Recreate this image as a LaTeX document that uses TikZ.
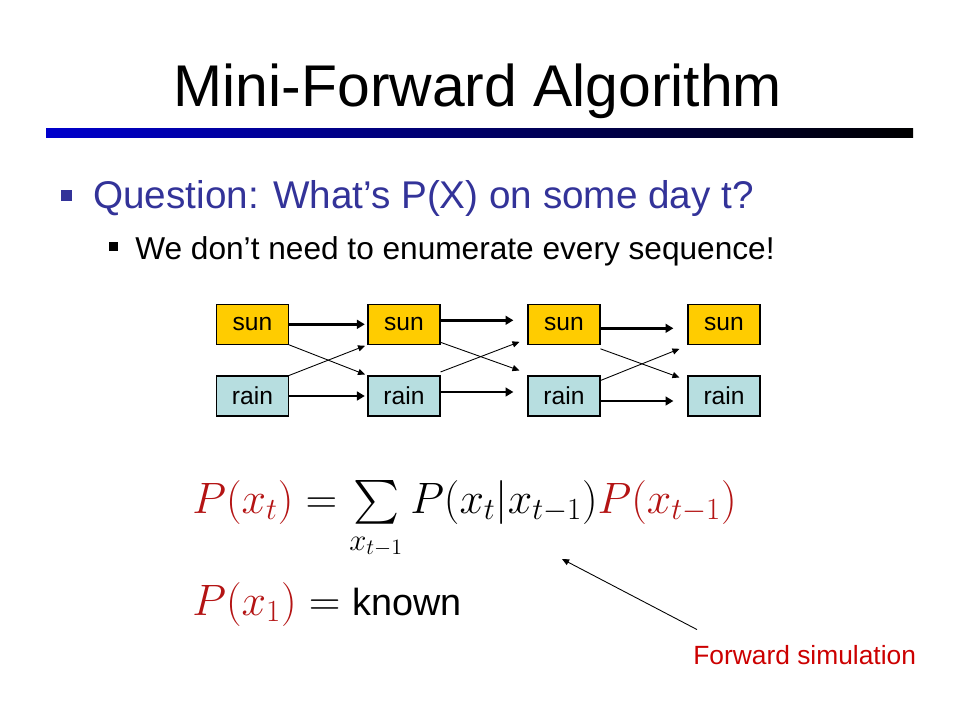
\RequirePackage{fix-cm}
\documentclass[tikz,border=0pt]{standalone}
\usepackage{amsmath}
\usepackage[no-math]{fontspec}
\setmainfont{Liberation Sans}
\usetikzlibrary{arrows.meta,calc}
\definecolor{qblue}{RGB}{51,51,153}
\definecolor{barblue}{RGB}{0,0,204}
\definecolor{sunfill}{RGB}{255,204,0}
\definecolor{rainfill}{RGB}{183,222,224}
\definecolor{mred}{RGB}{180,20,20}
\definecolor{fred}{RGB}{204,0,0}
\begin{document}
\begin{tikzpicture}[x=0.02cm, y=-0.02cm,
    statebox/.style={draw=black, line width=0.6pt, minimum width=1.44cm,
        minimum height=0.8cm, inner sep=0pt, font=\fontsize{14}{16}\selectfont},
    sunbox/.style={statebox, fill=sunfill},
    rainbox/.style={statebox, fill=rainfill},
    stay/.style={-{Triangle[length=4.5pt,width=5pt]}, line width=1.7pt},
    switch/.style={-{Triangle[length=4pt,width=3.5pt]}, line width=0.5pt},
    formula/.style={anchor=base west, inner sep=0pt, font=\fontsize{25}{30}\selectfont}]

    \useasboundingbox[fill=white] (0,0) rectangle (960,720);

    % 标题
    \node[anchor=base, font=\fontsize{33.5}{38}\selectfont] (title) at (478,106) {Mini-Forward Algorithm};
    \shade[left color=barblue, middle color=barblue!65!black, right color=black]
        (46,128) rectangle (913,137);

    % 要点
    \fill[qblue] (60.5,190) rectangle (71.5,201);
    \node[anchor=base west, inner sep=0pt, text=qblue, font=\fontsize{22}{26}\selectfont]
        (q) at (93,208) {Question: What’s P(X) on some day t?};
    \fill (108.5,242) rectangle (117.5,251);
    \node[anchor=base west, inner sep=0pt, font=\fontsize{18}{22}\selectfont]
        (we) at (135,259) {We don’t need to enumerate every sequence!};

    % 1. 状态格子
    \foreach \n/\x in {1/252.5, 2/404, 3/564, 4/724} {
        \node[sunbox] (s\n) at (\x,324.3) {sun};
        \node[rainbox] (r\n) at (\x,396) {rain};
    }

    % 2. 粗箭头 (保持)
    \draw[stay, shorten >=1.5] (s1.east) -- (s2.west);
    \draw[stay, shorten >=1.5] (r1.east) -- (r2.west);
    \draw[stay, shorten >=8] ($(s2.east)+(0,-4)$) -- ($(s3.west)+(0,-4)$);
    \draw[stay, shorten >=8] ($(r2.east)+(0,-4)$) -- ($(r3.west)+(0,-4)$);
    \draw[stay, shorten >=8] ($(s3.east)+(0,4)$) -- ($(s4.west)+(0,4)$);
    \draw[stay, shorten >=8] ($(r3.east)+(0,5)$) -- ($(r4.west)+(0,5)$);

    % 3. 细箭头 (转移)
    \draw[switch, shorten >=1.5] (s1.south east) -- (r2.north west);
    \draw[switch, shorten >=1.5] (r1.north east) -- (s2.south west);
    \draw[switch] ($(s2.south east)+(0,-2.5)$) -- ($(r3.north west)+(-8,-5)$);
    \draw[switch] ($(r2.north east)+(0,-3.5)$) -- ($(s3.south west)+(-8,-3)$);
    \draw[switch] ($(s3.south east)+(0,4)$) -- ($(r4.north west)+(-8,2)$);
    \draw[switch] ($(r3.north east)+(0,5)$) -- ($(s4.south west)+(-8,4)$);

    % 4. 公式
    \node[formula] (fa) at (192,513)
        {${\color{mred}P(x_t)} = \sum\limits_{x_{t-1}} P(x_t|x_{t-1}){\color{mred}P(x_{t-1})}$};
    \node[formula] (fb) at (192,615)
        {${\color{mred}P(x_1)} = \mbox{\fontsize{21.5}{26}\selectfont known}$};

    % 5. 注释
    \node[anchor=base west, inner sep=0pt, text=fred, font=\fontsize{15}{18}\selectfont]
        (fwd) at (693,664) {Forward simulation};
    \coordinate (tip) at (562,559);
    \draw[switch] ($(fwd.north west)+(4,-15)$) -- (tip);
\end{tikzpicture}
\end{document}
